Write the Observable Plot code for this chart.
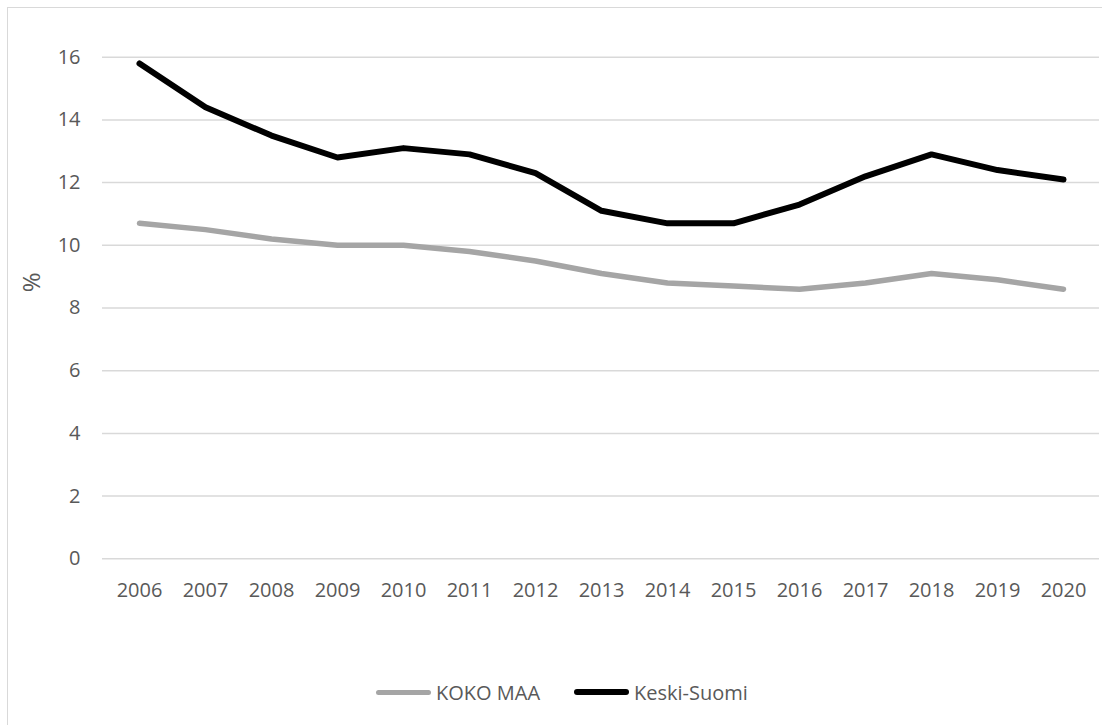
<!DOCTYPE html>
<html>
<head>
<meta charset="utf-8">
<script src="https://cdn.jsdelivr.net/npm/d3@7"></script>
<script src="https://cdn.jsdelivr.net/npm/@observablehq/plot@0.6"></script>
<style>
  html, body { margin: 0; padding: 0; background: #fff; overflow: hidden; }
  #wrap { position: relative; width: 1102px; height: 725px; overflow: hidden; font-family: "Open Sans", sans-serif; color: #595959; }
  #border { position: absolute; left: 7px; top: 7px; width: 1200px; height: 800px; border: 1.5px solid #d9d9d9; box-sizing: border-box; }
  #chart { position: absolute; left: 0; top: 0; }
  .item { position: absolute; top: 677px; height: 30px; display: flex; align-items: center; font-size: 20px; white-space: nowrap; }
  .sw { width: 55px; height: 5px; border-radius: 3px; margin-right: 5px; }
</style>
</head>
<body>
<div id="wrap">
  <div id="border"></div>
  <div id="chart"></div>
  <div id="legend"></div>
</div>
<script>
const years = [2006, 2007, 2008, 2009, 2010, 2011, 2012, 2013, 2014, 2015, 2016, 2017, 2018, 2019, 2020];
const kokoMaa = [10.7, 10.5, 10.2, 10.0, 10.0, 9.8, 9.5, 9.1, 8.8, 8.7, 8.6, 8.8, 9.1, 8.9, 8.6];
const keskiSuomi = [15.8, 14.4, 13.5, 12.8, 13.1, 12.9, 12.3, 11.1, 10.7, 10.7, 11.3, 12.2, 12.9, 12.4, 12.1];
const yTicks = [0, 2, 4, 6, 8, 10, 12, 14, 16];
const seriesNames = ["KOKO MAA", "Keski-Suomi"];
const seriesColors = ["#a5a5a5", "#000000"];
const yLabel = "%";

const data = [];
years.forEach((y, i) => {
  data.push({year: y, value: kokoMaa[i], series: seriesNames[0]});
  data.push({year: y, value: keskiSuomi[i], series: seriesNames[1]});
});

const chart = Plot.plot({
  width: 1102,
  height: 640,
  marginLeft: 102,
  marginRight: 3,
  marginTop: 56.7,
  marginBottom: 81.7,
  style: {background: "transparent", color: "#595959", fontFamily: "'Open Sans', sans-serif", fontSize: "20px", overflow: "visible"},
  x: {type: "point", domain: years, padding: 0.5},
  y: {domain: [0, 16]},
  marks: [
    Plot.gridY(yTicks, {stroke: "#d9d9d9", strokeOpacity: 1, strokeWidth: 1.5}),
    Plot.axisY({ticks: yTicks, tickSize: 0, tickPadding: 22, label: null, fontSize: 20}),
    Plot.axisX({tickSize: 0, tickPadding: 24, label: null, fontSize: 20, tickFormat: d => String(d)}),
    Plot.text([yLabel], {text: d => d, frameAnchor: "left", dx: -70.5, dy: -15.8, rotate: -90, fontSize: 24, fill: "#595959"}),
    Plot.line(data.filter(d => d.series === seriesNames[0]), {x: "year", y: "value", stroke: seriesColors[0], strokeWidth: 5.5, strokeLinecap: "round", strokeLinejoin: "round"}),
    Plot.line(data.filter(d => d.series === seriesNames[1]), {x: "year", y: "value", stroke: seriesColors[1], strokeWidth: 6, strokeLinecap: "round", strokeLinejoin: "round"})
  ]
});
document.getElementById("chart").appendChild(chart);

const legend = document.getElementById("legend");
const lefts = [376, 574];
seriesNames.forEach((name, i) => {
  const item = document.createElement("div");
  item.className = "item";
  item.style.left = lefts[i] + "px";
  const sw = document.createElement("div");
  sw.className = "sw";
  sw.style.background = seriesColors[i];
  sw.style.height = i === 1 ? "6px" : "5px";
  const t = document.createElement("span");
  t.textContent = name;
  item.appendChild(sw);
  item.appendChild(t);
  legend.appendChild(item);
});
</script>
</body>
</html>
